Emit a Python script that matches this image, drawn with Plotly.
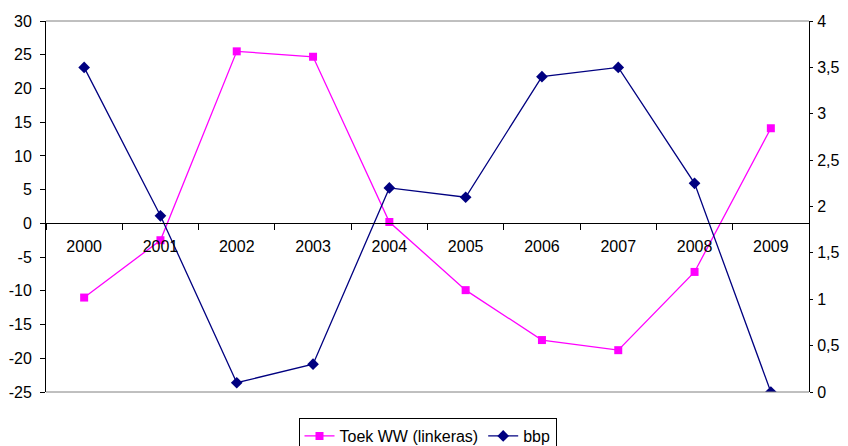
import plotly.graph_objects as go

years = ["2000", "2001", "2002", "2003", "2004", "2005", "2006", "2007", "2008", "2009"]
toek_ww = [-11.0, -2.5, 25.5, 24.7, 0.2, -9.9, -17.3, -18.8, -7.2, 14.1]
bbp = [3.5, 1.9, 0.1, 0.3, 2.2, 2.1, 3.4, 3.5, 2.25, 0.0]

left_ticks = [-25, -20, -15, -10, -5, 0, 5, 10, 15, 20, 25, 30]
left_labels = ["-25", "-20", "-15", "-10", "-5", "0", "5", "10", "15", "20", "25", "30"]
right_ticks = [0, 0.5, 1, 1.5, 2, 2.5, 3, 3.5, 4]
right_labels = ["0", "0,5", "1", "1,5", "2", "2,5", "3", "3,5", "4"]

font = dict(family="Liberation Sans, Arial, sans-serif", size=16, color="#000000")

W, H = 848, 462
T, B = 21, 0
plot_top_px, plot_bot_px = 21, 392
paper_h = H - T - B


def py(pix):
    return (H - B - pix) / paper_h


fig = go.Figure()
fig.add_trace(go.Scatter(
    x=years, y=toek_ww, name="Toek WW (linkeras)", mode="lines+markers",
    line=dict(color="#FF00FF", width=1.3),
    marker=dict(symbol="square", size=8, color="#FF00FF"),
    yaxis="y"))
fig.add_trace(go.Scatter(
    x=years, y=bbp, name="bbp", mode="lines+markers",
    line=dict(color="#000080", width=1.3),
    marker=dict(symbol="diamond", size=9, color="#000080"),
    yaxis="y2"))

ydom = [py(plot_bot_px), py(plot_top_px)]
zero_frac = (0 - (-25)) / (30 - (-25))
zero_paper = ydom[0] + zero_frac * (ydom[1] - ydom[0])

fig.update_layout(
    width=W, height=H,
    margin=dict(l=46, r=39, t=T, b=B),
    paper_bgcolor="white", plot_bgcolor="white",
    font=font,
    showlegend=True,
    legend=dict(orientation="h", x=0.5, xanchor="center", y=py(418), yanchor="top",
                bordercolor="#000000", borderwidth=1, font=font,
                itemwidth=30, tracegroupgap=0),
    xaxis=dict(type="category", range=[-0.5, 9.5], anchor="free", position=zero_paper,
               showline=True, linecolor="#000000", linewidth=1,
               ticks="outside", ticklen=6, tickcolor="#000000", tickson="boundaries",
               ticklabelstandoff=8, showgrid=False, zeroline=False, automargin=False),
    yaxis=dict(range=[-25, 30], domain=ydom, tickmode="array", tickvals=left_ticks,
               ticktext=left_labels, showline=True, linecolor="#000000", linewidth=1,
               ticks="outside", ticklen=5, tickcolor="#000000", showgrid=False,
               zeroline=False, ticklabelstandoff=5, automargin=False),
    yaxis2=dict(range=[0, 4], overlaying="y", side="right", tickmode="array",
                tickvals=right_ticks, ticktext=right_labels,
                showline=True, linecolor="#000000", linewidth=1,
                ticks="outside", ticklen=3, tickcolor="#000000", showgrid=False,
                zeroline=False, ticklabelstandoff=1, automargin=False),
    shapes=[
        dict(type="line", xref="paper", yref="paper", x0=0, x1=1, y0=ydom[1], y1=ydom[1],
             line=dict(color="#808080", width=1)),
        dict(type="line", xref="paper", yref="paper", x0=0, x1=1, y0=ydom[0], y1=ydom[0],
             line=dict(color="#808080", width=1)),
    ],
)

fig.write_html(
    "out.html",
    config={"displayModeBar": False},
    post_script="document.body.style.margin='0';document.body.style.overflow='hidden';",
)
